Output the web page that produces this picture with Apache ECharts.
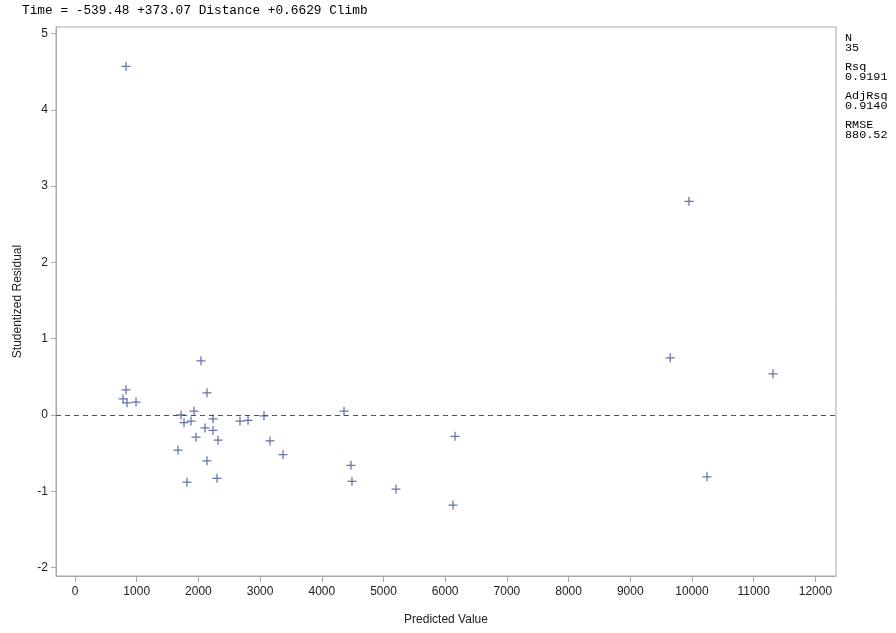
<!DOCTYPE html>
<html>
<head>
<meta charset="utf-8">
<script src="https://cdn.jsdelivr.net/npm/echarts@6/dist/echarts.min.js"></script>
<style>html,body{margin:0;padding:0;background:#fff}#c{width:896px;height:633px}</style>
</head>
<body>
<div id="c"></div>
<script>
// Predicted values and studentized residuals
const predicted = [827, 827, 778, 843, 989, 1669, 1718, 1767, 1815, 1880, 1929, 1961, 2042, 2107, 2139, 2139, 2237, 2237, 2318, 2301, 2674, 2804, 3063, 3160, 3371, 4360, 4473, 4489, 5203, 6126, 6159, 9648, 9951, 10243, 11313];
const residual  = [4.57, 0.33, 0.21, 0.16, 0.17, -0.46, 0.00, -0.10, -0.88, -0.08, 0.05, -0.29, 0.71, -0.17, 0.29, -0.60, -0.05, -0.20, -0.33, -0.83, -0.08, -0.07, -0.01, -0.34, -0.52, 0.05, -0.66, -0.87, -0.97, -1.18, -0.28, 0.75, 2.80, -0.81, 0.54];
const xTicks = [0,1000,2000,3000,4000,5000,6000,7000,8000,9000,10000,11000,12000];
const yTicks = [-2,-1,0,1,2,3,4,5];
const titleText = 'Time = -539.48 +373.07 Distance +0.6629 Climb';
const statLabels = ['N','Rsq','AdjRsq','RMSE'];
const statValues = ['35','0.9191','0.9140','880.52'];

const blue = '#3f5095';
const axisGray = '#a8a8a8';
const plus = 'path://M4.3,0H5.7V4.3H10V5.7H5.7V10H4.3V5.7H0V4.3H4.3Z';

const chart = echarts.init(document.getElementById('c'));
const graphics = [{
  type:'text', left:22, top:4,
  style:{text:titleText, font:'12.8px "Liberation Mono", "DejaVu Sans Mono", monospace', fill:'#000'}
}];
statLabels.forEach((s,i)=>{
  graphics.push({type:'text', left:845, top:32+i*29, style:{text:s, font:'11.8px "Liberation Mono", monospace', fill:'#000'}});
  graphics.push({type:'text', left:845, top:42+i*29, style:{text:statValues[i], font:'11.8px "Liberation Mono", monospace', fill:'#000'}});
});

chart.setOption({
  animation:false,
  backgroundColor:'#fff',
  textStyle:{fontFamily:'"Liberation Sans", Arial, sans-serif'},
  grid:{left:56, right:60, top:27, bottom:57, show:true, borderColor:axisGray, borderWidth:1, backgroundColor:'#fff'},
  xAxis:{
    type:'value', min:-308, max:12334,
    name:'Predicted Value', nameLocation:'middle', nameGap:38,
    nameTextStyle:{fontSize:12, color:'#222'},
    axisLine:{show:true, onZero:false, lineStyle:{color:axisGray}},
    axisTick:{show:true, length:6, customValues:xTicks, lineStyle:{color:axisGray}},
    axisLabel:{customValues:xTicks, fontSize:12, color:'#222', margin:10, formatter:v=>String(v)},
    splitLine:{show:false}
  },
  yAxis:{
    type:'value', min:-2.11, max:5.085,
    name:'Studentized Residual', nameLocation:'middle', nameGap:32,
    nameTextStyle:{fontSize:12, color:'#222'},
    axisLine:{show:true, onZero:false, lineStyle:{color:axisGray}},
    axisTick:{show:true, length:5, customValues:yTicks, lineStyle:{color:axisGray}},
    axisLabel:{customValues:yTicks, fontSize:12, color:'#222', margin:8, formatter:v=>String(v)},
    splitLine:{show:false}
  },
  graphic:graphics,
  series:[{
    type:'scatter',
    data:predicted.map((x,i)=>[x,residual[i]]),
    symbol:plus, symbolSize:9,
    itemStyle:{color:blue},
    markLine:{
      silent:true, symbol:'none', label:{show:false},
      lineStyle:{color:blue, type:[5,4], width:1.2},
      data:[{yAxis:0}]
    }
  }]
});
</script>
</body>
</html>
